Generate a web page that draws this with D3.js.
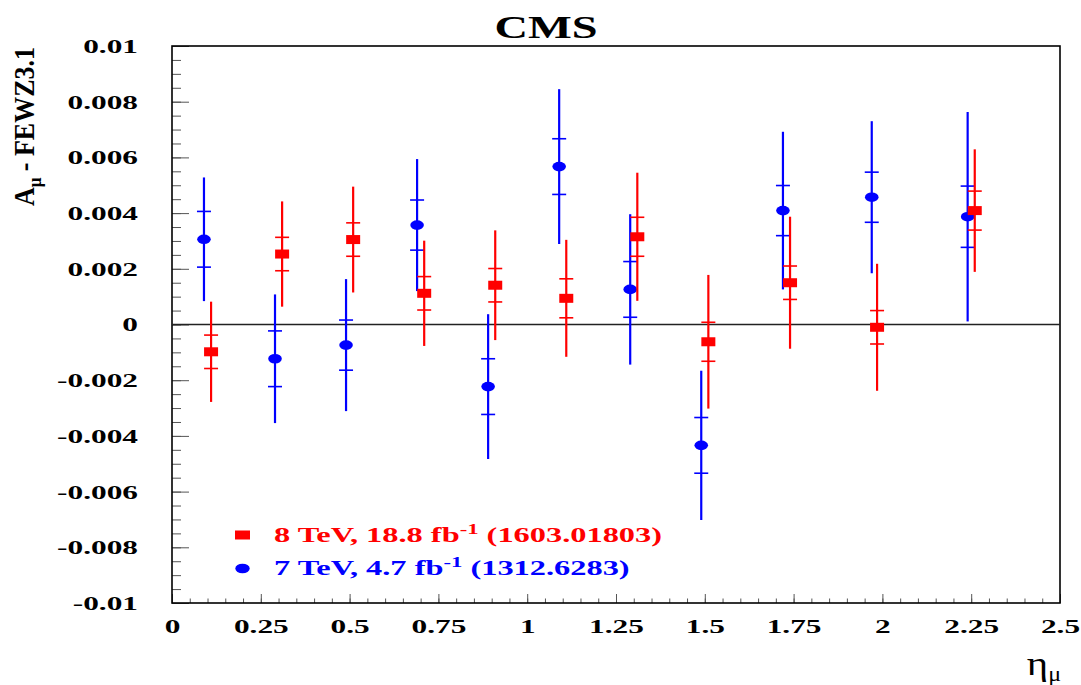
<!DOCTYPE html>
<html>
<head>
<meta charset="utf-8">
<script src="https://cdn.jsdelivr.net/npm/d3@7"></script>
<style>
  body { margin: 0; background: #fff; }
  text { font-family: "Liberation Serif", "Times New Roman", serif; font-weight: bold; }
</style>
</head>
<body>
<div id="chart"></div>
<script>
// 8 TeV, 18.8 fb-1 (1603.01803) - red squares
var eta8  = [0.11, 0.31, 0.51, 0.71, 0.91, 1.11, 1.31, 1.51, 1.74, 1.985, 2.26];
var val8  = [-0.00098, 0.00253, 0.00305, 0.00112, 0.00141, 0.00094, 0.00315, -0.00062, 0.00150, -0.00010, 0.00409];
var stat8 = [0.0006, 0.0006, 0.0006, 0.0006, 0.0006, 0.0007, 0.0007, 0.0007, 0.0006, 0.0006, 0.0007];
var tot8  = [0.0018, 0.00189, 0.0019, 0.00189, 0.00197, 0.0021, 0.0023, 0.0024, 0.00237, 0.00228, 0.0022];

// 7 TeV, 4.7 fb-1 (1312.6283) - blue circles
var eta7  = [0.09, 0.29, 0.49, 0.69, 0.89, 1.09, 1.29, 1.49, 1.72, 1.97, 2.24];
var val7  = [0.00306, -0.00123, -0.00074, 0.00357, -0.00223, 0.00567, 0.00126, -0.00434, 0.00409, 0.00457, 0.00387];
var stat7 = [0.0010, 0.0010, 0.0009, 0.0009, 0.0010, 0.0010, 0.0010, 0.0010, 0.0009, 0.0009, 0.0011];
var tot7  = [0.00222, 0.00231, 0.00237, 0.00237, 0.0026, 0.00278, 0.0027, 0.00268, 0.00283, 0.00273, 0.00376];

var xTicks = [0, 0.25, 0.5, 0.75, 1, 1.25, 1.5, 1.75, 2, 2.25, 2.5];
var xTickLabels = ["0", "0.25", "0.5", "0.75", "1", "1.25", "1.5", "1.75", "2", "2.25", "2.5"];
var yTicks = [0.01, 0.008, 0.006, 0.004, 0.002, 0, -0.002, -0.004, -0.006, -0.008, -0.01];
var yTickLabels = ["0.01", "0.008", "0.006", "0.004", "0.002", "0", "-0.002", "-0.004", "-0.006", "-0.008", "-0.01"];

var red = "#ff0000", blue = "#0000ff";
var stretch = 1.65; // the picture is squashed wide, text too

var W = 1081, H = 685;
var margin = {top: 46, right: 21, bottom: 82, left: 172},
    width = W - margin.left - margin.right,
    height = H - margin.top - margin.bottom;

var root = d3.select("#chart").append("svg")
    .attr("width", W).attr("height", H)
    .style("background", "#fff");

var svg = root.append("g")
    .attr("transform", "translate(" + margin.left + "," + margin.top + ")");

var x = d3.scaleLinear().domain([0, 2.5]).range([0, width]);
var y = d3.scaleLinear().domain([-0.01, 0.01]).range([height, 0]);

// y axis: ticks go inward
svg.append("g")
    .call(d3.axisLeft(y).ticks(40).tickSize(-9).tickFormat(""))
    .call(g => g.select(".domain").remove())
    .call(g => g.selectAll("line").attr("stroke", "#555").attr("stroke-width", 1));

var yAx = svg.append("g")
    .call(d3.axisLeft(y).tickValues(yTicks).tickSize(-17)
        .tickFormat((d, i) => yTickLabels[i]))
    .call(g => g.select(".domain").remove());
yAx.selectAll("line").attr("stroke", "#555").attr("stroke-width", 1);
yAx.selectAll("text")
    .attr("x", 0).attr("dy", "0.34em")
    .attr("transform", "translate(-34,0) scale(" + stretch + ",1)")
    .attr("fill", "#000")
    .style("font-size", "19px")
    .style("font-family", "'Liberation Serif', serif")
    .style("font-weight", "bold");

// x axis
svg.append("g")
    .attr("transform", "translate(0," + height + ")")
    .call(d3.axisBottom(x).ticks(50).tickSize(-4.5).tickFormat(""))
    .call(g => g.select(".domain").remove())
    .call(g => g.selectAll("line").attr("stroke", "#555").attr("stroke-width", 1));

var xAx = svg.append("g")
    .attr("transform", "translate(0," + height + ")")
    .call(d3.axisBottom(x).tickValues(xTicks).tickSize(-9)
        .tickFormat((d, i) => xTickLabels[i]))
    .call(g => g.select(".domain").remove());
xAx.selectAll("line").attr("stroke", "#555").attr("stroke-width", 1);
xAx.selectAll("text")
    .attr("y", 0).attr("dy", null)
    .attr("transform", "translate(0,30) scale(" + stretch + ",1)")
    .attr("fill", "#000")
    .style("font-size", "19px")
    .style("font-family", "'Liberation Serif', serif")
    .style("font-weight", "bold");

// frame
svg.append("rect")
    .attr("width", width).attr("height", height)
    .attr("fill", "none").attr("stroke", "#000").attr("stroke-width", 1.6);

// zero line
svg.append("line")
    .attr("x1", 0).attr("x2", width)
    .attr("y1", y(0)).attr("y2", y(0))
    .attr("stroke", "#222").attr("stroke-width", 1.5);

function drawSeries(eta, val, stat, tot, color, marker) {
    var g = svg.append("g");
    var pts = eta.map((e, i) => ({e: e, v: val[i], s: stat[i], t: tot[i]}));
    g.selectAll("line.tot").data(pts).enter().append("line")
        .attr("x1", d => x(d.e)).attr("x2", d => x(d.e))
        .attr("y1", d => y(d.v + d.t)).attr("y2", d => y(d.v - d.t))
        .attr("stroke", color).attr("stroke-width", 2.2);
    [1, -1].forEach(function(sgn) {
        g.selectAll("line.st" + sgn).data(pts).enter().append("line")
            .attr("x1", d => x(d.e) - 7).attr("x2", d => x(d.e) + 7)
            .attr("y1", d => y(d.v + sgn * d.s)).attr("y2", d => y(d.v + sgn * d.s))
            .attr("stroke", color).attr("stroke-width", 1.6);
    });
    if (marker == "square") {
        g.selectAll("rect").data(pts).enter().append("rect")
            .attr("x", d => x(d.e) - 7).attr("y", d => y(d.v) - 4.5)
            .attr("width", 14).attr("height", 9)
            .attr("fill", color);
    } else {
        g.selectAll("ellipse").data(pts).enter().append("ellipse")
            .attr("cx", d => x(d.e)).attr("cy", d => y(d.v))
            .attr("rx", 6.8).attr("ry", 4.8)
            .attr("fill", color);
    }
}

drawSeries(eta7, val7, stat7, tot7, blue, "circle");
drawSeries(eta8, val8, stat8, tot8, red, "square");

// legend
var leg = root.append("g");
leg.append("rect").attr("x", 235).attr("y", 530.5).attr("width", 15).attr("height", 9).attr("fill", red);
leg.append("ellipse").attr("cx", 242.5).attr("cy", 568.5).attr("rx", 7.2).attr("ry", 4.8).attr("fill", blue);

function legendText(yb, color, a, b) {
    var t = leg.append("text")
        .attr("transform", "translate(274," + yb + ") scale(1.62,1)")
        .attr("fill", color).style("font-size", "20px");
    t.append("tspan").text(a);
    t.append("tspan").attr("dy", -8).style("font-size", "14px").text("-1");
    t.append("tspan").attr("dy", 8).text(b);
}
legendText(541.5, red, "8 TeV, 18.8 fb", " (1603.01803)");
legendText(575, blue, "7 TeV, 4.7 fb", " (1312.6283)");

// title
root.append("text")
    .attr("transform", "translate(546,38) scale(1.45,1)")
    .attr("text-anchor", "middle")
    .style("font-size", "32px")
    .text("CMS");

// y title
var yt = root.append("text")
    .attr("transform", "translate(34,47) rotate(-90) scale(1,1.15)")
    .attr("text-anchor", "end")
    .style("font-size", "26px");
yt.append("tspan").text("A");
yt.append("tspan").attr("dy", 6).style("font-size", "17px").text("μ");
yt.append("tspan").attr("dy", -6).text(" - FEWZ3.1");

// x title
var xt = root.append("text")
    .attr("transform", "translate(1061,675) scale(1.2,1)")
    .attr("text-anchor", "end")
    .style("font-size", "34px")
    .style("font-weight", "normal");
xt.append("tspan").text("η");
xt.append("tspan").attr("dy", 6).style("font-size", "20px").text("μ");
</script>
</body>
</html>
